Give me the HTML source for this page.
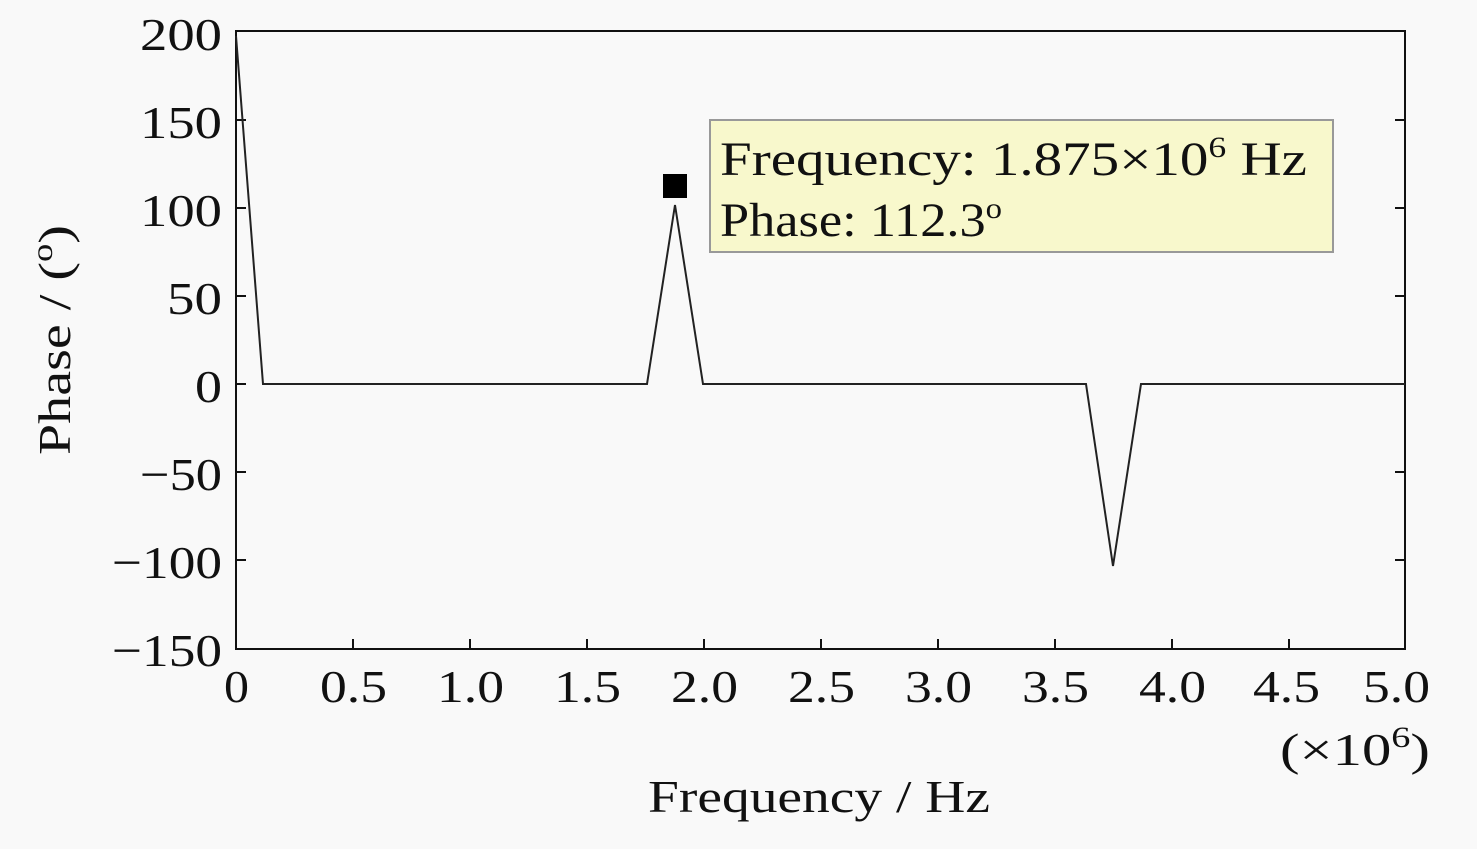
<!DOCTYPE html><html><head><style>body{margin:0;background:#f9f9f9}svg text{font-family:"Liberation Serif",serif;fill:#111}</style></head><body>
<svg width="1477" height="844" viewBox="0 0 1477 844">
<rect width="1477" height="844" fill="#f9f9f9"/>
<g stroke="#111" stroke-width="2" fill="none">
<rect x="236" y="31" width="1169" height="618"/>
<path d="M236 120h10M236 208h10M236 296h10M236 384h10M236 472h10M236 560h10M1405 120h-10M1405 208h-10M1405 296h-10M1405 384h-10M1405 472h-10M1405 560h-10"/>
<path d="M353 649v-10M470 649v-10M587 649v-10M704 649v-10M821 649v-10M938 649v-10M1055 649v-10M1172 649v-10M1289 649v-10"/>
</g>
<polyline fill="none" stroke="#222" stroke-width="2" points="236,36 263,384 647,384 675,205 703,384 1086,384 1113,566 1141,384 1405,384"/>
<rect x="663" y="174" width="24" height="24" fill="#000"/>
<rect x="710" y="120" width="623" height="132" fill="#f8f8cc" stroke="#999" stroke-width="2"/>
<text x="720" y="175" font-size="48" textLength="587" lengthAdjust="spacingAndGlyphs">Frequency: 1.875×10<tspan font-size="30" dy="-18">6</tspan><tspan dy="18"> Hz</tspan></text>
<text x="720" y="236" font-size="48" textLength="282" lengthAdjust="spacingAndGlyphs">Phase: 112.3<tspan font-size="30" dy="-18">o</tspan></text>
<g font-size="46">
<text x="140" y="50" textLength="82" lengthAdjust="spacingAndGlyphs">200</text>
<text x="140" y="138" textLength="82" lengthAdjust="spacingAndGlyphs">150</text>
<text x="140" y="226" textLength="82" lengthAdjust="spacingAndGlyphs">100</text>
<text x="167" y="314" textLength="55" lengthAdjust="spacingAndGlyphs">50</text>
<text x="195" y="402" textLength="27" lengthAdjust="spacingAndGlyphs">0</text>
<text x="140" y="490" textLength="82" lengthAdjust="spacingAndGlyphs">−50</text>
<text x="112" y="578" textLength="110" lengthAdjust="spacingAndGlyphs">−100</text>
<text x="112" y="666" textLength="110" lengthAdjust="spacingAndGlyphs">−150</text>
</g>
<g font-size="46">
<text x="224" y="702" textLength="25" lengthAdjust="spacingAndGlyphs">0</text>
<text x="320" y="702" textLength="67" lengthAdjust="spacingAndGlyphs">0.5</text>
<text x="437" y="702" textLength="67" lengthAdjust="spacingAndGlyphs">1.0</text>
<text x="554" y="702" textLength="67" lengthAdjust="spacingAndGlyphs">1.5</text>
<text x="671" y="702" textLength="67" lengthAdjust="spacingAndGlyphs">2.0</text>
<text x="788" y="702" textLength="67" lengthAdjust="spacingAndGlyphs">2.5</text>
<text x="905" y="702" textLength="67" lengthAdjust="spacingAndGlyphs">3.0</text>
<text x="1022" y="702" textLength="67" lengthAdjust="spacingAndGlyphs">3.5</text>
<text x="1139" y="702" textLength="67" lengthAdjust="spacingAndGlyphs">4.0</text>
<text x="1253" y="702" textLength="67" lengthAdjust="spacingAndGlyphs">4.5</text>
<text x="1363" y="702" textLength="67" lengthAdjust="spacingAndGlyphs">5.0</text>
<text x="1280" y="765" textLength="150" lengthAdjust="spacingAndGlyphs">(×10<tspan font-size="30" dy="-18">6</tspan><tspan dy="18">)</tspan></text>
<text x="648" y="812" textLength="342" lengthAdjust="spacingAndGlyphs">Frequency / Hz</text>
<text transform="translate(70,455) rotate(-90)" textLength="230" lengthAdjust="spacingAndGlyphs">Phase / (<tspan font-size="30" dy="-18">o</tspan><tspan dy="18">)</tspan></text>
</g>
</svg></body></html>
